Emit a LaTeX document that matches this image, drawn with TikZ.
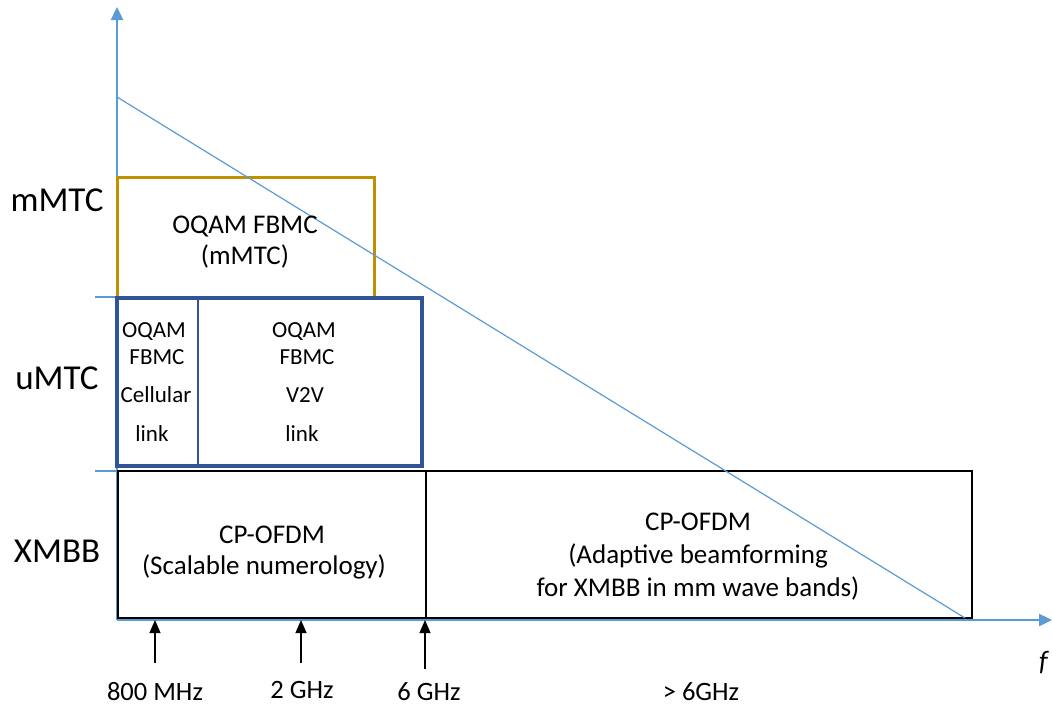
\documentclass[tikz,border=0pt]{standalone}
\usepackage{fontspec}
\setmainfont{Carlito}
\usetikzlibrary{arrows.meta}
\definecolor{axisblue}{RGB}{91,155,213}
\definecolor{mgold}{RGB}{191,144,0}
\definecolor{udark}{RGB}{47,85,151}
\tikzset{
  axis/.style={draw=axisblue, line width=2.4pt, -{Triangle[length=13pt,width=12pt]}},
  tick/.style={draw=axisblue, line width=2.2pt},
  trend/.style={draw=axisblue, line width=1.2pt},
  region/.style={inner sep=0pt, anchor=base, font=\fontsize{35}{40}\selectfont},
  boxtxt/.style={inner sep=0pt, anchor=base, font=\fontsize{27}{32}\selectfont},
  smalltxt/.style={inner sep=0pt, anchor=base, font=\fontsize{23}{28}\selectfont},
  freq/.style={inner sep=0pt, anchor=base, font=\fontsize{26.5}{30}\selectfont},
  marker/.style={draw=black, line width=1.1pt, -{Triangle[length=13pt,width=11pt]}},
  goldbox/.style={draw=mgold, line width=3pt},
  bluebox/.style={draw=udark, line width=3.2pt},
  blackbox/.style={draw=black, line width=2.8pt}
}
\begin{document}
\begin{tikzpicture}[x=1pt, y=-1pt]
\useasboundingbox (0,0) rectangle (1052,705);

% axes
\coordinate (O) at (117,620);
\coordinate (ytop) at (117,7);
\coordinate (xend) at (1052,620);
\draw[axis] (O) -- (ytop);
\draw[axis] (O) -- (xend);

% tick marks separating the service classes
\coordinate (t1a) at (95,297);  \coordinate (t1b) at (117,297);
\coordinate (t2a) at (95,471);  \coordinate (t2b) at (117,471);
\draw[tick] (t1a) -- (t1b);
\draw[tick] (t2a) -- (t2b);

% service-class boxes
\draw[goldbox] (117,177) rectangle (374,297);
\draw[bluebox] (117,298) rectangle (422,466);
\coordinate (dv1) at (198,298); \coordinate (dv2) at (198,466);
\draw[udark, line width=2.8pt] (dv1) -- (dv2);
\draw[blackbox] (118,471) rectangle (426,618);
\draw[blackbox] (426,471) rectangle (972,618);

% falling line across the frequency range
\coordinate (d1) at (117,97);
\coordinate (d2) at (965,618);
\draw[trend] (d1) -- (d2);

% class labels
\node[region] (lm) at (57,211) {mMTC};
\node[region] (lu) at (57,389) {uMTC};
\node[region] (lx) at (57,562) {XMBB};

% mMTC waveform
\node[boxtxt] (m1) at (245,233) {OQAM FBMC};
\node[boxtxt] (m2) at (245,264) {(mMTC)};

% uMTC waveforms
\node[smalltxt] (c1) at (154,337) {OQAM};
\node[smalltxt] (c2) at (157,364) {FBMC};
\node[smalltxt] (c3) at (156,402) {Cellular};
\node[smalltxt] (c4) at (152,441) {link};
\node[smalltxt] (v1) at (304,337) {OQAM};
\node[smalltxt] (v2) at (307,364) {FBMC};
\node[smalltxt] (v3) at (305,402) {V2V};
\node[smalltxt] (v4) at (302,441) {link};

% XMBB waveforms
\node[boxtxt] (x1) at (272,543) {CP-OFDM};
\node[boxtxt] (x2) at (264,574) {(Scalable numerology)};
\node[boxtxt] (y1) at (698,530) {CP-OFDM};
\node[boxtxt] (y2) at (698,563) {(Adaptive beamforming};
\node[boxtxt] (y3) at (698,596) {for XMBB in mm wave bands)};

% frequency markers
\coordinate (a1) at (155,663); \coordinate (b1) at (155,620);
\coordinate (a2) at (301,663); \coordinate (b2) at (301,620);
\coordinate (a3) at (425,669); \coordinate (b3) at (425,620);
\draw[marker] (a1) -- (b1);
\draw[marker] (a2) -- (b2);
\draw[marker] (a3) -- (b3);
\node[freq] (f1) at (155,700) {800 MHz};
\node[freq] (f2) at (302,698) {2 GHz};
\node[freq] (f3) at (429,700) {6 GHz};
\node[freq] (f4) at (701,700) {> 6GHz};
\node[inner sep=0pt, anchor=base west, font=\fontsize{28}{32}\selectfont\itshape] (fl) at (1039,670) {f};
\end{tikzpicture}
\end{document}
